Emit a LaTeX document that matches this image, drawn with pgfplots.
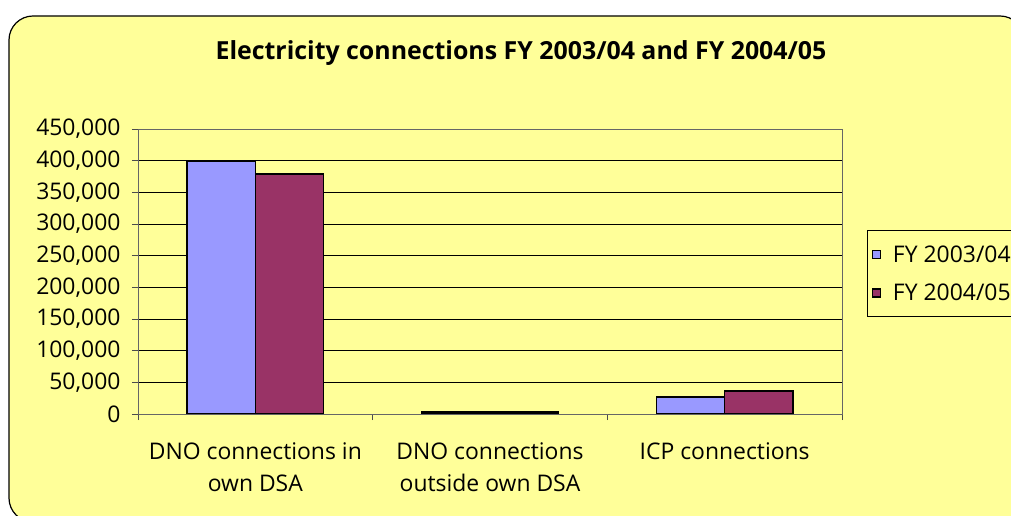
\documentclass[border=0pt]{standalone}
\usepackage{fontspec}
\setmainfont{Open Sans}
\usepackage{pgfplots}
\pgfplotsset{compat=1.18}
\definecolor{bgyellow}{HTML}{FFFF99}
\definecolor{barblue}{HTML}{9999FF}
\definecolor{barmaroon}{HTML}{993366}
\begin{document}
\begin{tikzpicture}
\useasboundingbox (0bp,0bp) rectangle (1011bp,516bp);
\clip (0bp,0bp) rectangle (1011bp,516bp);
\fill[white] (0bp,0bp) rectangle (1011bp,516bp);
\draw[black, line width=1.2bp, fill=bgyellow, rounded corners=24bp] (9bp,-6bp) rectangle (1024bp,500bp);
\node[font=\fontsize{25}{30}\selectfont\bfseries] at (521bp,463bp) {Electricity connections FY 2003/04 and FY 2004/05};
\begin{axis}[
  at={(138bp,102bp)}, anchor=south west,
  scale only axis, width=704bp, height=285bp,
  xmin=-0.5, xmax=2.5, ymin=0, ymax=450000,
  ybar=0pt, bar width=0.29,
  axis background/.style={fill=bgyellow},
  axis line style={draw=gray!80!black, line width=1bp},
  ytick={0,50000,100000,150000,200000,250000,300000,350000,400000,450000},
  yticklabels={0,{50,000},{100,000},{150,000},{200,000},{250,000},{300,000},{350,000},{400,000},{450,000}},
  scaled y ticks=false,
  yticklabel style={font=\fontsize{23}{26}\selectfont, xshift=-8bp},
  ymajorgrids, grid style={black, line width=0.9bp},
  tick pos=left,
  tick align=outside, major tick length=6bp, minor tick length=6bp,
  tick style={draw=gray!60!black, line width=1bp},
  xtick={0,1,2},
  xticklabels={{DNO connections in\\own DSA},{DNO connections\\outside own DSA},{ICP connections}},
  major x tick style={draw=none},
  minor xtick={-0.5,0.5,1.5,2.5},
  xticklabel style={align=center, font=\fontsize{23}{32}\selectfont, yshift=-19bp},
  legend style={at={(rel axis cs:1.0355,0.645)}, anchor=north west,
    draw=black, line width=1bp, fill=bgyellow, font=\fontsize{23}{27}\selectfont,
    inner xsep=4bp, inner ysep=13bp, row sep=16bp,
    /tikz/every odd column/.append style={column sep=10bp}},
  legend cell align=left,
  legend image code/.code={\draw[#1, draw=black, line width=1.5bp] (0bp,-4bp) rectangle (8bp,4bp);},
]
\addplot[fill=barblue, draw=black, line width=1.6bp] coordinates {(0,399500) (1,3000) (2,26800)};
\addplot[fill=barmaroon, draw=black, line width=1.6bp] coordinates {(0,378500) (1,3000) (2,36300)};
\legend{FY 2003/04, FY 2004/05}
\end{axis}
\end{tikzpicture}
\end{document}
